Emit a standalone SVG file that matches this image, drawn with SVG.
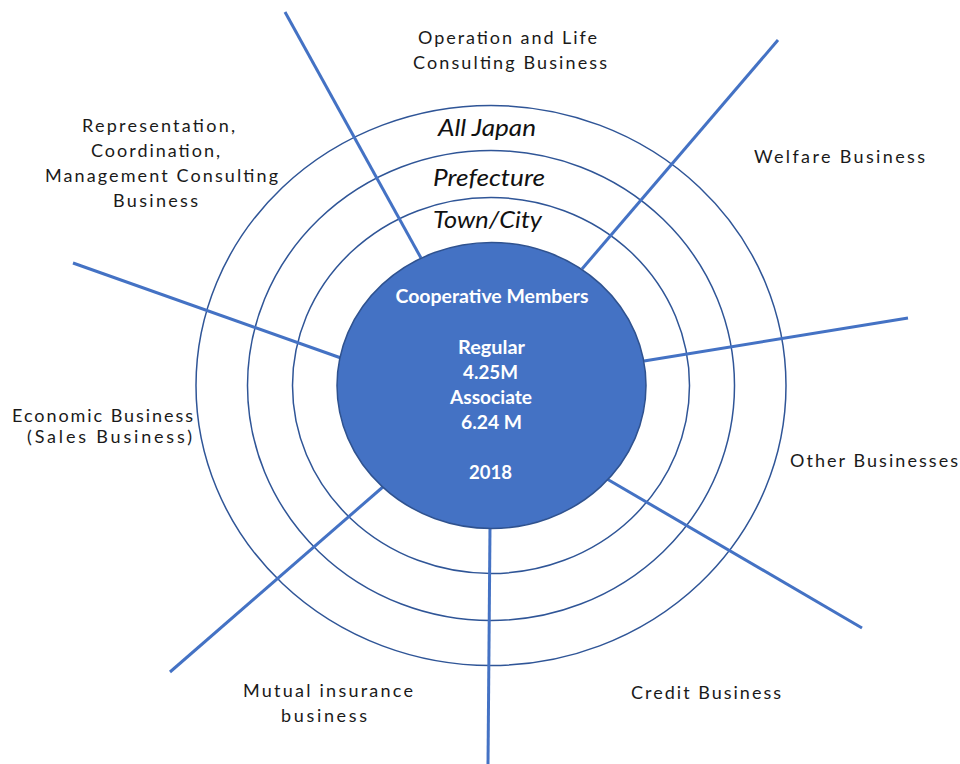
<svg xmlns="http://www.w3.org/2000/svg" width="960" height="764" viewBox="0 0 960 764">
<style>
.ring{fill:none;stroke:#2F5597;stroke-width:1.5}
.spoke{stroke:#4472C4;stroke-width:3;stroke-linecap:butt}
.lbl{font-family:Lato,"Noto Sans","Liberation Sans",sans-serif;font-size:18px;fill:#1a1a1a;text-anchor:middle}
.lvl{font-family:Lato,"Noto Sans","Liberation Sans",sans-serif;font-size:23px;font-style:italic;fill:#111;text-anchor:middle}
.in{font-family:Lato,"Noto Sans","Liberation Sans",sans-serif;font-size:18.5px;font-weight:bold;fill:#fff;text-anchor:middle}
</style>
<rect width="960" height="764" fill="#fff"/>
<g id="rings">
<ellipse id="ring-alljapan" class="ring" cx="491" cy="385.5" rx="295" ry="280"/>
<ellipse id="ring-prefecture" class="ring" cx="491" cy="385.5" rx="243.5" ry="235"/>
<ellipse id="ring-town" class="ring" cx="491" cy="385.5" rx="198.5" ry="188"/>
</g>
<g id="connectors">
<line class="spoke" x1="285" y1="12" x2="421" y2="258"/>
<line class="spoke" x1="778" y1="40" x2="582" y2="269"/>
<line class="spoke" x1="73" y1="263" x2="341" y2="358"/>
<line class="spoke" x1="908" y1="318" x2="644" y2="361"/>
<line class="spoke" x1="170" y1="672" x2="384" y2="486"/>
<line class="spoke" x1="490" y1="527" x2="488" y2="764"/>
<line class="spoke" x1="607" y1="479" x2="862" y2="628"/>
</g>
<g id="center">
<ellipse cx="491.5" cy="385.5" rx="154.5" ry="143" fill="#4472C4" stroke="#2F528F" stroke-width="1.5"/>
<text class="in" x="492" y="303" textLength="193" lengthAdjust="spacingAndGlyphs">Cooperative Members</text>
<text class="in" x="491.5" y="354" textLength="67" lengthAdjust="spacingAndGlyphs">Regular</text>
<text class="in" x="490.5" y="379" textLength="55" lengthAdjust="spacingAndGlyphs">4.25M</text>
<text class="in" x="491" y="404" textLength="82" lengthAdjust="spacingAndGlyphs">Associate</text>
<text class="in" x="491.5" y="429" textLength="61" lengthAdjust="spacingAndGlyphs">6.24 M</text>
<text class="in" x="490.5" y="479" textLength="43" lengthAdjust="spacingAndGlyphs">2018</text>
</g>
<g id="levels">
<text class="lvl" x="487" y="136" textLength="98" lengthAdjust="spacingAndGlyphs">All Japan</text>
<text class="lvl" x="489" y="186" textLength="112" lengthAdjust="spacingAndGlyphs">Prefecture</text>
<text class="lvl" x="487.5" y="228" textLength="109" lengthAdjust="spacingAndGlyphs">Town/City</text>
</g>
<g id="operation">
<text class="lbl" x="507.5" y="44" textLength="179" lengthAdjust="spacing">Operation and Life</text>
<text class="lbl" x="510" y="69" textLength="194" lengthAdjust="spacing">Consulting Business</text>
</g>
<g id="representation">
<text class="lbl" x="158.5" y="132" textLength="153" lengthAdjust="spacing">Representation,</text>
<text class="lbl" x="155.5" y="157" textLength="129" lengthAdjust="spacing">Coordination,</text>
<text class="lbl" x="161.5" y="182" textLength="233" lengthAdjust="spacing">Management Consulting</text>
<text class="lbl" x="155.5" y="207" textLength="85" lengthAdjust="spacing">Business</text>
</g>
<g id="welfare">
<text class="lbl" x="839.5" y="163" textLength="171" lengthAdjust="spacing">Welfare Business</text>
</g>
<g id="economic">
<text class="lbl" x="102.5" y="422" textLength="181" lengthAdjust="spacing">Economic Business</text>
<text class="lbl" x="109.5" y="443" textLength="165" lengthAdjust="spacing">(Sales Business)</text>
</g>
<g id="other">
<text class="lbl" x="874" y="467" textLength="168" lengthAdjust="spacing">Other Businesses</text>
</g>
<g id="mutual">
<text class="lbl" x="328" y="697" textLength="170" lengthAdjust="spacing">Mutual insurance</text>
<text class="lbl" x="324" y="722" textLength="86" lengthAdjust="spacing">business</text>
</g>
<g id="credit">
<text class="lbl" x="706" y="699" textLength="150" lengthAdjust="spacing">Credit Business</text>
</g>
</svg>
